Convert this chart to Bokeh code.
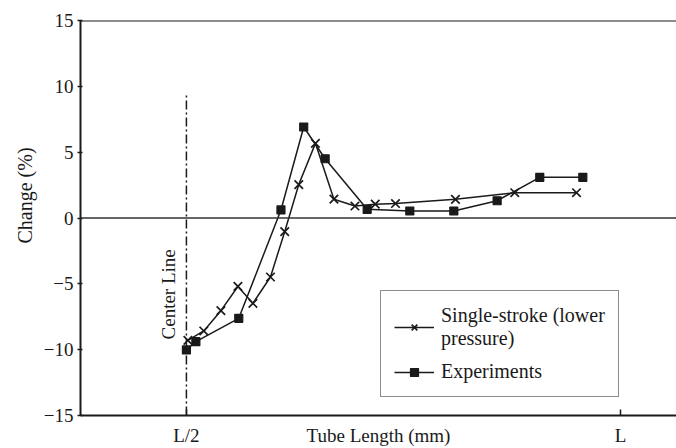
from bokeh.plotting import figure
from bokeh.models import Range1d, Span, Label, Legend, LegendItem, FixedTicker, Title
from bokeh.embed import file_html
from bokeh.resources import INLINE

# ---- data (x as fraction of tube length L; y = change in %) ----
single_x = [0.5017, 0.520, 0.5397, 0.5593, 0.5766, 0.5968, 0.6132, 0.6294,
            0.6486, 0.6699, 0.6941, 0.7175, 0.7408, 0.8099, 0.8782, 0.9493]
single_y = [-9.30, -8.58, -7.04, -5.20, -6.48, -4.48, -1.04, 2.54,
            5.67, 1.43, 0.91, 1.05, 1.10, 1.42, 1.92, 1.92]

exp_x = [0.500, 0.5109, 0.5603, 0.6089, 0.6351, 0.6598, 0.7082, 0.7573,
         0.8080, 0.8579, 0.9070, 0.9566]
exp_y = [-10.02, -9.39, -7.62, 0.61, 6.91, 4.50, 0.66, 0.53,
         0.53, 1.31, 3.09, 3.09]

center_x = [0.5, 0.5]
center_y = [-15, 9.35]

x_ticks = [0.5, 1.0]
x_tick_labels = ["L/2", "L"]
y_ticks = [-15, -10, -5, 0, 5, 10, 15]
y_tick_labels = ["\u221215", "\u221210", "\u22125", "0", "5", "10", "15"]

FONT = "Liberation Serif"
INK = "#1a1a1a"

p = figure(width=676, height=448, output_backend="svg", toolbar_location=None,
           x_range=Range1d(0.378, 1.0645), y_range=Range1d(-15, 15),
           min_border_left=80, min_border_right=0, min_border_top=20,
           min_border_bottom=33)
p.outline_line_color = None
p.xgrid.visible = False
p.ygrid.visible = False
p.background_fill_color = "white"
p.border_fill_color = "white"

# x axis
xa = p.xaxis[0]
xa.ticker = FixedTicker(ticks=x_ticks)
xa.major_label_overrides = dict(zip(x_ticks, x_tick_labels))
xa.major_tick_in = 6
xa.major_tick_out = 0
xa.minor_tick_line_color = None
xa.axis_line_width = 2
xa.axis_line_color = INK
xa.major_tick_line_color = INK
xa.major_tick_line_width = 1.5
xa.major_label_text_font = FONT
xa.major_label_text_font_size = "19px"
xa.major_label_text_color = INK
xa.major_label_standoff = 9
xa.axis_label = "Tube Length (mm)"
xa.axis_label_text_font = FONT
xa.axis_label_text_font_style = "normal"
xa.axis_label_text_font_size = "19px"
xa.axis_label_text_color = INK
xa.axis_label_standoff = -24

# y axis
ya = p.yaxis[0]
ya.ticker = FixedTicker(ticks=y_ticks)
ya.major_label_overrides = dict(zip(y_ticks, y_tick_labels))
ya.major_tick_in = 2
ya.major_tick_out = 3
ya.minor_tick_line_color = None
ya.axis_line_width = 2
ya.axis_line_color = INK
ya.major_tick_line_color = INK
ya.major_tick_line_width = 1.5
ya.major_label_text_font = FONT
ya.major_label_text_font_size = "19px"
ya.major_label_text_color = INK
ya.major_label_standoff = 4

ytitle = Title(text="Change (%)", align="left", offset=172, text_font=FONT,
               text_font_style="normal", text_font_size="20px", text_color=INK)
p.add_layout(ytitle, "left")

# top border line and zero line
p.add_layout(Span(location=15, dimension="width", line_color=INK, line_width=2))
p.add_layout(Span(location=0, dimension="width", line_color="#333333", line_width=1.5))

# center line
p.line(center_x, center_y, line_color=INK, line_width=1.5, line_dash="9 3 2 3")
p.add_layout(Label(x=0.5, y=-5.8, x_offset=-7, text="Center Line", angle=1.5708,
                   text_align="center", text_baseline="bottom", text_font=FONT,
                   text_font_size="19px", text_color=INK))

# series
l1 = p.line(single_x, single_y, line_color=INK, line_width=1.5)
s1 = p.scatter(single_x, single_y, marker="x", size=12, line_color=INK, line_width=1.7)
l2 = p.line(exp_x, exp_y, line_color=INK, line_width=1.5)
s2 = p.scatter(exp_x, exp_y, marker="square_x", size=8, line_color=INK,
               fill_color=INK, line_width=1.2)

legend = Legend(items=[
    LegendItem(label="Single-stroke (lower\npressure)", renderers=[l1, s1]),
    LegendItem(label="Experiments", renderers=[l2, s2]),
], location=(300, 18))
legend.border_line_color = INK
legend.border_line_width = 1.5
legend.label_text_font = FONT
legend.label_text_font_size = "20px"
legend.label_text_color = INK
legend.label_text_line_height = 1.15
legend.glyph_width = 40
legend.label_standoff = 7
legend.padding = 13
legend.spacing = 10
legend.margin = 0
legend.background_fill_alpha = 1
p.add_layout(legend)

open("out.html", "w").write(file_html(p, INLINE))
